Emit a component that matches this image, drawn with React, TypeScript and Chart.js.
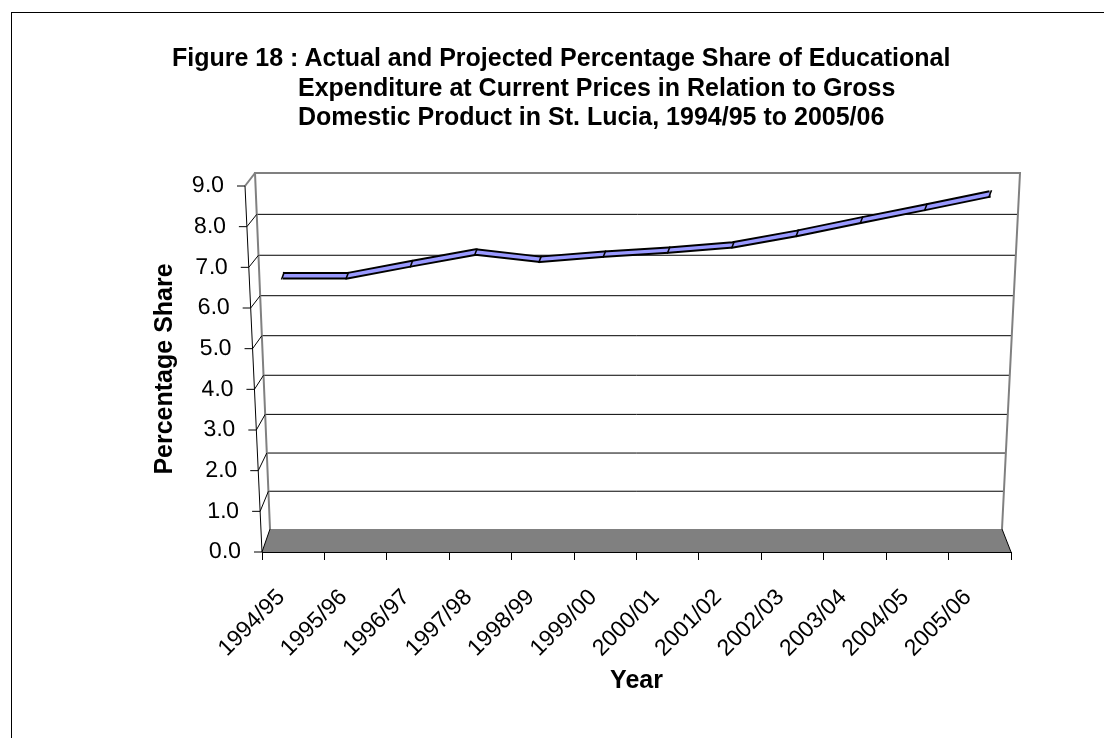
import React, { useEffect, useRef } from 'react';
import { Chart, registerables } from 'chart.js';

Chart.register(...registerables);

// ---- data ----
const categories = [
  '1994/95', '1995/96', '1996/97', '1997/98', '1998/99', '1999/00',
  '2000/01', '2001/02', '2002/03', '2003/04', '2004/05', '2005/06',
];
const shareValues = [6.6, 6.6, 6.9, 7.19, 7.01, 7.14, 7.24, 7.37, 7.66, 7.99, 8.31, 8.64];
const yMin = 0;
const yMax = 9;
const yStep = 1;
const titleLines = [
  'Figure 18 : Actual and Projected Percentage Share of Educational',
  'Expenditure at Current Prices in Relation to Gross',
  'Domestic Product in St. Lucia, 1994/95 to 2005/06',
];
const yAxisTitle = 'Percentage Share';
const xAxisTitle = 'Year';

// ---- style ----
const FONT = "'Liberation Sans', Arial, Helvetica, sans-serif";
const RIBBON_FILL = '#9999FF';

// 3D frame geometry (pixel offsets relative to the chart area)
const G = {
  backBottomDy: 23,
  backTopDy: 13,
  backBottomLeftDx: 8,
  backTopLeftDx: -7,
  backTopRightDx: 9,
  backBottomRightDx: -9,
  frontSkew: 17,
  midDy: 11.5,
  midSx: 1.03,
  midSy: 0.9863,
  persp: 0.0511,
};

const threeD = {
  id: 'threeD',
  beforeDraw(chart: any) {
    const { ctx, chartArea: a } = chart;
    const bl = { x: a.left + G.backBottomLeftDx, y: a.bottom - G.backBottomDy };
    const tl = { x: a.left + G.backTopLeftDx, y: a.top - G.backTopDy };
    const tr = { x: a.right + G.backTopRightDx, y: a.top - G.backTopDy };
    const br = { x: a.right + G.backBottomRightDx, y: a.bottom - G.backBottomDy };
    ctx.save();
    // back wall
    ctx.beginPath();
    ctx.moveTo(bl.x, bl.y);
    ctx.lineTo(tl.x, tl.y);
    ctx.lineTo(tr.x, tr.y);
    ctx.lineTo(br.x, br.y);
    ctx.closePath();
    ctx.fillStyle = '#ffffff';
    ctx.fill();
    // gridlines on back wall
    const ys = chart.scales.y;
    ctx.strokeStyle = '#000';
    ctx.lineWidth = 1;
    ys.ticks.forEach((tk: any) => {
      const v = tk.value;
      if (v <= yMin || v >= yMax) return;
      const t = (v - yMin) / (yMax - yMin);
      const by = bl.y - (bl.y - tl.y) * (t - G.persp * t * (1 - t));
      const f = (bl.y - by) / (bl.y - tl.y);
      const lx = bl.x + (tl.x - bl.x) * f;
      const rx = br.x + (tr.x - br.x) * f;
      ctx.beginPath();
      ctx.moveTo(lx, by);
      ctx.lineTo(rx, by);
      ctx.stroke();
    });
    // wall edges
    ctx.strokeStyle = '#808080';
    ctx.lineWidth = 2;
    ctx.beginPath();
    ctx.moveTo(bl.x, bl.y);
    ctx.lineTo(tl.x, tl.y);
    ctx.lineTo(tr.x, tr.y);
    ctx.lineTo(br.x, br.y);
    ctx.stroke();
    // floor
    ctx.beginPath();
    ctx.moveTo(a.left, a.bottom);
    ctx.lineTo(a.right, a.bottom);
    ctx.lineTo(br.x, br.y);
    ctx.lineTo(bl.x, bl.y);
    ctx.closePath();
    ctx.fillStyle = '#808080';
    ctx.fill();
    ctx.strokeStyle = '#000';
    ctx.lineWidth = 1;
    ctx.beginPath();
    ctx.moveTo(a.right, a.bottom);
    ctx.lineTo(br.x, br.y);
    ctx.stroke();
    ctx.restore();
  },
  beforeDatasetsDraw(chart: any) {
    const { ctx, chartArea: a } = chart;
    const cx = (a.left + a.right) / 2;
    ctx.save();
    ctx.translate(cx * (1 - G.midSx), a.bottom - G.midDy - a.bottom * G.midSy);
    ctx.scale(G.midSx, G.midSy);
  },
  afterDatasetsDraw(chart: any) {
    const { ctx, chartArea: a } = chart;
    ctx.restore();
    const k = G.frontSkew / (a.bottom - a.top);
    ctx.save();
    ctx.transform(1, 0, k, 1, -k * a.bottom, 0);
  },
  afterDraw(chart: any) {
    const { ctx, chartArea: a } = chart;
    ctx.restore();
    const ys = chart.scales.y;
    const k = G.frontSkew / (a.bottom - a.top);
    const bl = { x: a.left + G.backBottomLeftDx, y: a.bottom - G.backBottomDy };
    const tl = { x: a.left + G.backTopLeftDx, y: a.top - G.backTopDy };
    ctx.save();
    ys.ticks.forEach((tk: any) => {
      const v = tk.value;
      const yf = ys.getPixelForValue(v);
      const xf = a.left - k * (a.bottom - yf);
      const t = (v - yMin) / (yMax - yMin);
      const by = bl.y - (bl.y - tl.y) * (t - G.persp * t * (1 - t));
      const f = (bl.y - by) / (bl.y - tl.y);
      const lx = bl.x + (tl.x - bl.x) * f;
      // connector to the back wall
      ctx.strokeStyle = v >= yMax ? '#808080' : '#000';
      ctx.lineWidth = v >= yMax ? 2 : 1;
      ctx.beginPath();
      ctx.moveTo(xf, yf);
      ctx.lineTo(lx, by);
      ctx.stroke();
      // tick mark
      ctx.strokeStyle = '#000';
      ctx.lineWidth = 1;
      ctx.beginPath();
      ctx.moveTo(xf - 8, yf);
      ctx.lineTo(xf, yf);
      ctx.stroke();
    });
    // front value axis line
    ctx.strokeStyle = '#000';
    ctx.lineWidth = 1;
    ctx.beginPath();
    ctx.moveTo(a.left, a.bottom);
    ctx.lineTo(a.left - G.frontSkew, a.top);
    ctx.stroke();
    ctx.restore();
  },
};

export default function App() {
  const ref = useRef<HTMLCanvasElement>(null);

  useEffect(() => {
    if (!ref.current) return;
    const chart = new Chart(ref.current, {
      type: 'line',
      data: {
        labels: categories,
        datasets: [
          {
            label: 'ribbon',
            data: shareValues,
            borderColor: RIBBON_FILL,
            borderWidth: 3.5,
            pointStyle: 'line',
            pointRadius: 4,
            pointRotation: -70,
            pointBorderColor: '#000',
            pointBorderWidth: 1.5,
            pointBackgroundColor: '#000',
            tension: 0,
            fill: false,
            clip: false,
            order: 1,
          },
          {
            label: 'outline',
            data: shareValues,
            borderColor: '#000',
            borderWidth: 7.5,
            pointRadius: 0,
            tension: 0,
            fill: false,
            clip: false,
            order: 2,
          },
        ],
      },
      options: {
        responsive: false,
        animation: false,
        events: [],
        layout: { padding: { left: 0, right: 93, top: 186, bottom: 0 } },
        plugins: {
          legend: { display: false },
          tooltip: { enabled: false },
          title: { display: false },
        },
        scales: {
          x: {
            type: 'category',
            offset: true,
            grid: {
              display: true,
              offset: true,
              drawOnChartArea: false,
              drawTicks: true,
              tickLength: 8,
              color: '#000',
              lineWidth: 1,
            },
            border: { display: true, color: '#000', width: 1 },
            ticks: {
              color: '#000',
              font: { family: FONT, size: 23 },
              minRotation: 45,
              maxRotation: 45,
              autoSkip: false,
              padding: 24,
              labelOffset: -12,
            },
            title: {
              display: true,
              text: xAxisTitle,
              color: '#000',
              font: { family: FONT, size: 25, weight: 'bold' },
              padding: { top: 0, bottom: 42 },
            },
            afterFit: (s: any) => {
              s.height = 186;
            },
          },
          y: {
            min: yMin,
            max: yMax,
            grid: { display: false },
            border: { display: false },
            ticks: {
              stepSize: yStep,
              color: '#000',
              font: { family: FONT, size: 23 },
              padding: 13,
              z: 1,
              callback: (v: any) => Number(v).toFixed(1),
            },
            title: {
              display: true,
              text: yAxisTitle,
              color: '#000',
              font: { family: FONT, size: 25, weight: 'bold' },
              padding: { top: 150, bottom: 0 },
            },
            afterFit: (s: any) => {
              s.width = 262;
            },
          },
        },
      },
      plugins: [threeD],
    } as any);
    return () => chart.destroy();
  }, []);

  return (
    <div
      style={{
        position: 'fixed',
        left: 0,
        top: 0,
        width: 1104,
        height: 738,
        background: '#fff',
        overflow: 'hidden',
        fontFamily: FONT,
      }}
    >
      <div
        style={{
          position: 'absolute',
          left: 11,
          top: 12,
          width: 1200,
          height: 800,
          border: '1px solid #000',
        }}
      />
      <canvas
        ref={ref}
        width={1104}
        height={738}
        style={{ position: 'absolute', left: 0, top: 0, display: 'block' }}
      />
      {titleLines.map((line, i) => (
        <div
          key={i}
          style={{
            position: 'absolute',
            left: i === 0 ? 172 : 298,
            top: 42 + i * 29.5,
            fontSize: 25,
            lineHeight: '30px',
            fontWeight: 'bold',
            whiteSpace: 'nowrap',
            color: '#000',
          }}
        >
          {line}
        </div>
      ))}
    </div>
  );
}
